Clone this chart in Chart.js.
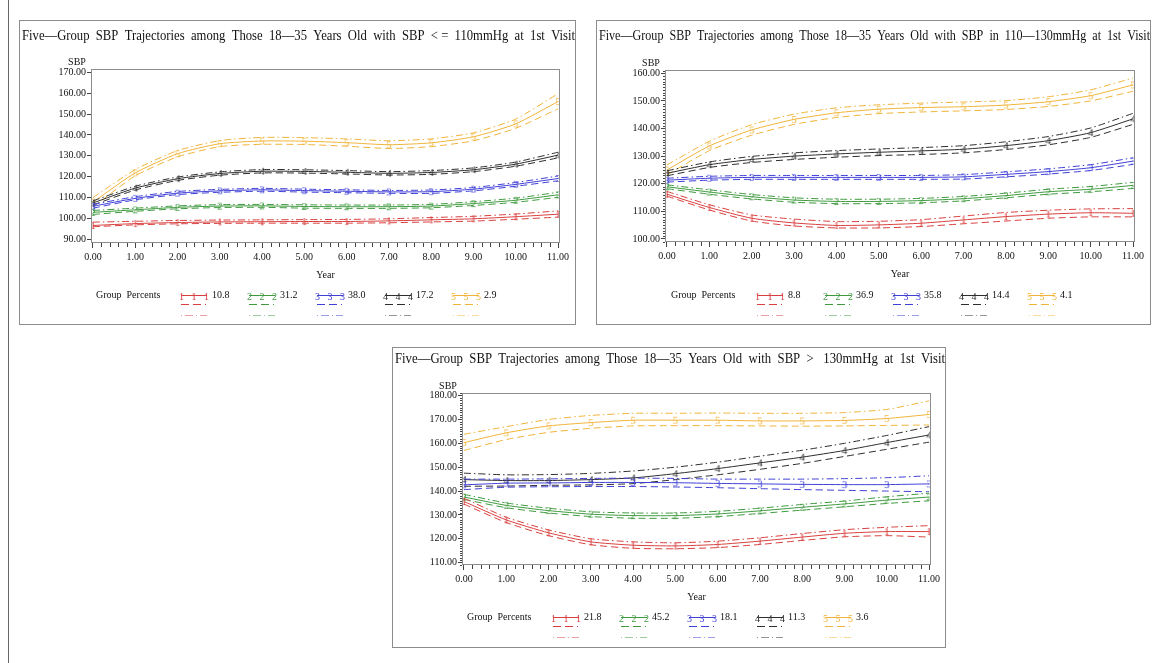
<!DOCTYPE html>
<html>
<head>
<meta charset="utf-8">
<script src="https://cdn.jsdelivr.net/npm/chart.js@4.4.1/dist/chart.umd.min.js"></script>
<style>
body { margin: 0; background: #fff; width: 1159px; height: 663px; position: relative; overflow: hidden;
       font-family: "Liberation Serif", "DejaVu Serif", serif; }
.panel { position: absolute; border: 1px solid #8c8c8c; box-sizing: border-box; background: #fff; }
.panel canvas { position: absolute; left: 0; top: 0; }
.lg { position: absolute; font-size: 10px; line-height: 12px; color: #111; white-space: pre; }
.lgs { position: absolute; overflow: visible; }
#frameL { position: absolute; left: 8px; top: 0; width: 0; height: 663px; border-left: 1px solid #666; }
</style>
</head>
<body>
<div id="frameL"></div>
<div class="panel" id="box1"><canvas id="c1"></canvas></div>
<div class="panel" id="box2"><canvas id="c2"></canvas></div>
<div class="panel" id="box3"><canvas id="c3"></canvas></div>
<script>
// ---- data ----
const years = [0, 1, 2, 3, 4, 5, 6, 7, 8, 9, 10, 11];
const groups = ['1', '2', '3', '4', '5'];

// panel 1: SBP <= 110 at 1st visit
const p1Title = 'Five\u2014Group  SBP  Trajectories  among  Those  18\u201435  Years  Old  with  SBP  < =  110mmHg  at  1st  Visit';
const p1Percents = ['10.8', '31.2', '38.0', '17.2', '2.9'];
const p1YTicks = [90, 100, 110, 120, 130, 140, 150, 160, 170];
const p1Mean = [
  [96.6, 97.5, 98.0, 98.3, 98.4, 98.5, 98.5, 98.8, 99.3, 99.8, 100.8, 102.0],
  [102.9, 104.1, 105.3, 105.9, 106.0, 105.7, 105.6, 105.6, 105.9, 107.1, 108.7, 111.3],
  [105.8, 109.6, 112.1, 113.2, 113.7, 113.3, 113.0, 112.7, 112.8, 114.0, 116.3, 119.1],
  [107.4, 114.5, 119.0, 121.5, 122.6, 122.5, 122.1, 121.6, 122.0, 123.3, 126.0, 130.3],
  [107.8, 121.8, 131.0, 135.8, 137.1, 137.0, 136.3, 135.3, 136.2, 139.1, 145.3, 156.0]
];
const p1Lower = [
  [96.0, 96.9, 97.4, 97.6, 97.7, 97.7, 97.7, 97.9, 98.3, 98.7, 99.6, 100.6],
  [101.9, 103.4, 104.6, 105.2, 105.3, 104.9, 104.8, 104.8, 105.1, 106.2, 107.7, 110.1],
  [104.9, 108.9, 111.4, 112.5, 113.0, 112.6, 112.3, 112.0, 112.0, 113.2, 115.4, 118.0],
  [106.4, 113.6, 118.2, 120.7, 121.8, 121.7, 121.3, 120.8, 121.1, 122.4, 125.0, 129.0],
  [105.5, 120.4, 129.5, 134.4, 135.5, 135.4, 134.6, 133.5, 134.4, 137.2, 143.2, 152.5]
];
const p1Upper = [
  [98.2, 98.6, 99.0, 99.2, 99.3, 99.4, 99.5, 99.8, 100.4, 101.0, 102.1, 103.6],
  [103.8, 104.9, 106.0, 106.6, 106.7, 106.5, 106.4, 106.4, 106.7, 108.0, 109.7, 112.5],
  [106.7, 110.4, 112.9, 113.9, 114.4, 114.0, 113.7, 113.4, 113.6, 114.8, 117.2, 120.3],
  [108.4, 115.4, 119.8, 122.3, 123.4, 123.3, 122.9, 122.4, 122.9, 124.2, 127.0, 131.7],
  [110.0, 123.4, 132.5, 137.3, 138.8, 138.7, 138.1, 137.2, 138.1, 141.0, 147.6, 159.8]
];

// panel 2: SBP in 110-130 at 1st visit
const p2Title = 'Five\u2014Group  SBP  Trajectories  among  Those  18\u201435  Years  Old  with  SBP  in  110\u2014130mmHg  at  1st  Visit';
const p2Percents = ['8.8', '36.9', '35.8', '14.4', '4.1'];
const p2YTicks = [100, 110, 120, 130, 140, 150, 160];
const p2Mean = [
  [116.2, 111.4, 107.5, 105.8, 104.9, 105.1, 105.7, 106.9, 108.1, 109.0, 109.5, 109.3],
  [118.9, 117.0, 115.3, 114.1, 113.6, 113.6, 113.9, 114.6, 115.7, 117.1, 118.0, 119.4],
  [121.3, 122.0, 122.3, 122.3, 122.3, 122.3, 122.3, 122.5, 123.4, 124.4, 125.8, 128.2],
  [123.8, 126.9, 128.8, 130.0, 130.8, 131.4, 131.9, 132.5, 133.8, 135.6, 138.5, 143.5],
  [125.0, 133.7, 139.5, 143.3, 145.7, 147.0, 147.6, 147.9, 148.5, 149.7, 151.9, 155.8]
];
const p2Lower = [
  [115.5, 110.5, 106.5, 104.7, 104.0, 104.0, 104.5, 105.5, 106.5, 107.5, 108.0, 108.0],
  [118.2, 116.2, 114.5, 113.3, 112.8, 112.8, 113.1, 113.8, 114.9, 116.2, 117.1, 118.3],
  [120.6, 121.3, 121.6, 121.6, 121.6, 121.6, 121.6, 121.7, 122.5, 123.5, 124.8, 127.0],
  [122.9, 125.9, 127.7, 128.8, 129.6, 130.2, 130.6, 131.2, 132.4, 134.1, 136.8, 141.5],
  [123.2, 132.0, 137.6, 141.5, 144.0, 145.4, 146.0, 146.4, 146.9, 148.0, 150.0, 153.5]
];
const p2Upper = [
  [117.2, 112.4, 108.7, 107.2, 106.3, 106.4, 107.0, 108.3, 109.6, 110.4, 110.9, 111.0],
  [119.6, 117.8, 116.1, 114.9, 114.4, 114.4, 114.7, 115.4, 116.6, 118.0, 119.0, 120.5],
  [122.0, 122.7, 123.0, 123.0, 123.0, 123.0, 123.0, 123.3, 124.3, 125.4, 126.9, 129.4],
  [124.7, 127.9, 129.9, 131.2, 132.0, 132.6, 133.1, 133.8, 135.2, 137.1, 140.2, 145.5],
  [126.8, 135.4, 141.4, 145.2, 147.5, 148.6, 149.2, 149.6, 150.1, 151.5, 154.0, 158.3]
];

// panel 3: SBP > 130 at 1st visit
const p3Title = 'Five\u2014Group  SBP  Trajectories  among  Those  18\u201435  Years  Old  with  SBP  >   130mmHg  at  1st  Visit';
const p3Percents = ['21.8', '45.2', '18.1', '11.3', '3.6'];
const p3YTicks = [110, 120, 130, 140, 150, 160, 170, 180];
const p3Mean = [
  [135.6, 127.9, 122.5, 118.7, 117.3, 117.0, 117.6, 119.0, 120.7, 122.3, 123.0, 123.0],
  [137.5, 134.0, 131.8, 130.3, 129.7, 129.7, 130.4, 131.7, 133.2, 134.6, 136.2, 137.5],
  [142.6, 143.3, 143.4, 143.6, 143.6, 143.5, 143.2, 143.0, 142.8, 142.7, 142.7, 143.0],
  [144.8, 144.4, 144.4, 144.8, 145.5, 147.3, 149.4, 151.8, 154.2, 157.0, 160.3, 163.5],
  [160.3, 164.4, 167.3, 168.7, 169.7, 169.7, 169.7, 169.4, 169.4, 169.6, 170.4, 172.1]
];
const p3Lower = [
  [134.5, 126.8, 121.3, 117.5, 116.0, 115.8, 116.3, 117.6, 119.3, 120.8, 121.3, 120.7],
  [136.5, 133.0, 130.8, 129.3, 128.6, 128.6, 129.3, 130.6, 132.0, 133.4, 134.8, 135.9],
  [140.6, 141.6, 141.8, 141.9, 141.9, 141.7, 141.4, 141.0, 140.6, 140.3, 140.0, 139.7],
  [142.0, 142.1, 142.4, 142.6, 143.1, 144.8, 146.8, 149.1, 151.6, 154.5, 157.5, 160.5],
  [157.0, 161.6, 164.6, 166.3, 167.3, 167.4, 167.4, 167.3, 167.2, 167.3, 167.5, 167.7]
];
const p3Upper = [
  [137.0, 129.0, 123.7, 120.0, 118.7, 118.3, 119.0, 120.4, 122.2, 123.8, 124.8, 125.5],
  [138.6, 135.0, 132.8, 131.3, 130.8, 130.8, 131.5, 132.8, 134.4, 135.8, 137.6, 139.1],
  [145.0, 145.0, 145.1, 145.3, 145.4, 145.3, 145.0, 145.0, 145.0, 145.2, 145.6, 146.4],
  [147.5, 146.8, 146.9, 147.4, 148.4, 150.0, 152.1, 154.6, 157.1, 160.0, 163.3, 167.0],
  [163.8, 167.0, 170.0, 171.7, 172.6, 172.6, 172.7, 172.6, 172.6, 172.9, 174.2, 177.8]
];

// ---- styles / layout ----
const serif = '"Liberation Serif", "DejaVu Serif", serif';
const groupColors = ['#d8403f', '#3f9a3f', '#4040d6', '#2e2e2e', '#f0b43a'];
const tickColor = '#111';

// page coordinates measured on the reference
const layouts = [
  { box: [19, 20, 557, 305], plot: [91, 69, 560, 243], titleY: 36, x: [-0.047, 11.047], y: [88.2, 171.6], yMinor: false, gp: 96, s0: 181, ly: 295 },
  { box: [596, 20, 555, 305], plot: [665, 70, 1135, 242], titleY: 36, x: [-0.047, 11.047], y: [98.9, 161.2], yMinor: true, gp: 671, s0: 757, ly: 295 },
  { box: [392, 347, 554, 301], plot: [462, 393, 931, 565], titleY: 359, x: [-0.047, 11.047], y: [109.0, 181.1], yMinor: true, gp: 467, s0: 553, ly: 617 }
];

// digit markers like the SAS plot symbols
function digitMarker(d, color) {
  const c = document.createElement('canvas');
  c.width = 10; c.height = 13;
  const g = c.getContext('2d');
  g.font = '11px ' + serif;
  g.fillStyle = color;
  g.textAlign = 'center';
  g.textBaseline = 'middle';
  g.fillText(d, 5, 7);
  return c;
}

// plot frame, minor ticks and the "SBP" label
const sasAxes = {
  id: 'sasAxes',
  afterDraw(chart, args, opts) {
    const { ctx, chartArea: a } = chart;
    const x = chart.scales.x, y = chart.scales.y;
    ctx.save();
    ctx.strokeStyle = '#8c8c8c';
    ctx.lineWidth = 1;
    ctx.strokeRect(Math.round(a.left) + 0.5, Math.round(a.top) + 0.5,
                   Math.round(a.right - a.left) - 1, Math.round(a.bottom - a.top) - 1);
    ctx.strokeStyle = '#444';
    ctx.beginPath();
    for (let i = 1; i < 55; i++) {
      if (i % 5 === 0) continue;
      const px = Math.round(x.getPixelForValue(i / 5)) + 0.5;
      ctx.moveTo(px, a.bottom);
      ctx.lineTo(px, a.bottom + 4);
    }
    if (opts.yMinor) {
      for (let v = Math.ceil(y.min); v <= y.max; v++) {
        if (v % 10 === 0) continue;
        const py = Math.round(y.getPixelForValue(v)) + 0.5;
        ctx.moveTo(a.left - 2, py);
        ctx.lineTo(a.left, py);
      }
    }
    ctx.stroke();
    ctx.fillStyle = tickColor;
    ctx.font = '10px ' + serif;
    ctx.textAlign = 'center';
    ctx.textBaseline = 'middle';
    ctx.fillText('SBP', a.left - 14, a.top - 7);
    ctx.restore();
  }
};

function buildDatasets(means, lows, ups) {
  const sets = [];
  groups.forEach((g, i) => {
    const col = groupColors[i];
    const pts = arr => arr.map((v, k) => ({ x: years[k], y: v }));
    sets.push({ data: pts(lows[i]), borderColor: col, borderWidth: 1, borderDash: [7, 4],
                pointRadius: 0, tension: 0.2, fill: false });
    sets.push({ data: pts(ups[i]), borderColor: col, borderWidth: 1, borderDash: [7, 3, 1.5, 3],
                pointRadius: 0, tension: 0.2, fill: false });
    sets.push({ data: pts(means[i]), borderColor: col, borderWidth: 1, pointStyle: digitMarker(g, col),
                pointRadius: 5, tension: 0.2, fill: false });
  });
  return sets;
}

function makePanel(n, title, means, lows, ups, yTicks, percents) {
  const L = layouts[n - 1];
  const [bl, bt, bw, bh] = L.box;
  const [pl, pt, pr, pb] = L.plot;
  const box = document.getElementById('box' + n);
  box.style.left = bl + 'px'; box.style.top = bt + 'px';
  box.style.width = bw + 'px'; box.style.height = bh + 'px';
  const cw = bw - 2, ch = bh - 2, ox = bl + 1, oy = bt + 1;
  const canvas = document.getElementById('c' + n);
  canvas.width = cw; canvas.height = ch;

  const padLeft = 2;
  const titleTop = (L.titleY - oy) - 9;
  const titleBottom = (pt - oy) - titleTop - 18;
  const yWidth = (pl - ox) - padLeft;
  const rightWidth = (ox + cw) - pr;
  const xHeight = (oy + ch) - pb;
  const tickFont = { family: serif, size: 10 };

  new Chart(canvas, {
    type: 'line',
    data: { datasets: buildDatasets(means, lows, ups) },
    options: {
      responsive: false,
      animation: false,
      devicePixelRatio: 1,
      layout: { padding: { left: padLeft, right: 0, top: 0, bottom: 0 } },
      plugins: {
        legend: { display: false },
        tooltip: { enabled: false },
        title: {
          display: true, text: title, align: 'start', color: '#111',
          font: { family: serif, size: 15, weight: 'normal', lineHeight: 1.2 },
          padding: { top: titleTop, bottom: titleBottom }
        },
        sasAxes: { yMinor: L.yMinor }
      },
      scales: {
        x: {
          type: 'linear', min: L.x[0], max: L.x[1],
          afterBuildTicks: s => { s.ticks = years.map(v => ({ value: v })); },
          afterFit: s => { s.height = xHeight; },
          ticks: { callback: v => v.toFixed(2), font: tickFont, color: tickColor, padding: 3,
                   maxRotation: 0, autoSkip: false },
          grid: { drawOnChartArea: false, drawTicks: true, tickLength: 5, color: '#444' },
          border: { display: false },
          title: { display: true, text: 'Year', font: tickFont, color: tickColor,
                   padding: { top: 0, bottom: xHeight - 32.5 - 6 } }
        },
        y: {
          type: 'linear', min: L.y[0], max: L.y[1],
          afterBuildTicks: s => { s.ticks = yTicks.map(v => ({ value: v })); },
          afterFit: s => { s.width = yWidth; },
          ticks: { callback: v => v.toFixed(2), font: tickFont, color: tickColor, padding: 1, autoSkip: false },
          grid: { drawOnChartArea: false, drawTicks: true, tickLength: 4, color: '#444' },
          border: { display: false }
        },
        yR: {
          type: 'linear', position: 'right', display: true,
          ticks: { display: false }, grid: { display: false }, border: { display: false },
          afterFit: s => { s.width = rightWidth; }
        }
      }
    },
    plugins: [sasAxes]
  });

  // legend: three rows per group (estimate, lower and upper limits)
  const gp = document.createElement('div');
  gp.className = 'lg';
  gp.style.left = L.gp + 'px';
  gp.style.top = (L.ly - 6) + 'px';
  gp.textContent = 'Group  Percents';
  document.body.appendChild(gp);
  groups.forEach((g, i) => {
    const col = groupColors[i];
    const sx = L.s0 + 68 * i;
    const ns = 'http://www.w3.org/2000/svg';
    const svg = document.createElementNS(ns, 'svg');
    svg.setAttribute('class', 'lgs');
    svg.setAttribute('width', '28');
    svg.setAttribute('height', '30');
    svg.style.left = (sx - 1) + 'px';
    svg.style.top = (L.ly - 6) + 'px';
    const line = (yy, dash, op) => {
      const l = document.createElementNS(ns, 'line');
      l.setAttribute('x1', 1); l.setAttribute('x2', 27);
      l.setAttribute('y1', yy); l.setAttribute('y2', yy);
      l.setAttribute('stroke', col);
      l.setAttribute('stroke-width', 1);
      if (dash) l.setAttribute('stroke-dasharray', dash);
      if (op) l.setAttribute('opacity', op);
      svg.appendChild(l);
    };
    line(6.5);
    [1.5, 14, 26.5].forEach(tx => {
      const t = document.createElementNS(ns, 'text');
      t.setAttribute('x', tx); t.setAttribute('y', 7);
      t.setAttribute('fill', col);
      t.setAttribute('font-size', '10');
      t.setAttribute('font-family', 'Liberation Serif, serif');
      t.setAttribute('text-anchor', 'middle');
      t.setAttribute('dominant-baseline', 'central');
      t.textContent = g;
      svg.appendChild(t);
    });
    line(15.5, '8,4,8,4,1,3');
    line(26.5, '1,3,8,3', 0.5);
    document.body.appendChild(svg);
    const pc = document.createElement('div');
    pc.className = 'lg';
    pc.style.left = (sx + 31) + 'px';
    pc.style.top = (L.ly - 6) + 'px';
    pc.textContent = percents[i];
    document.body.appendChild(pc);
  });
}

makePanel(1, p1Title, p1Mean, p1Lower, p1Upper, p1YTicks, p1Percents);
makePanel(2, p2Title, p2Mean, p2Lower, p2Upper, p2YTicks, p2Percents);
makePanel(3, p3Title, p3Mean, p3Lower, p3Upper, p3YTicks, p3Percents);
</script>
</body>
</html>
